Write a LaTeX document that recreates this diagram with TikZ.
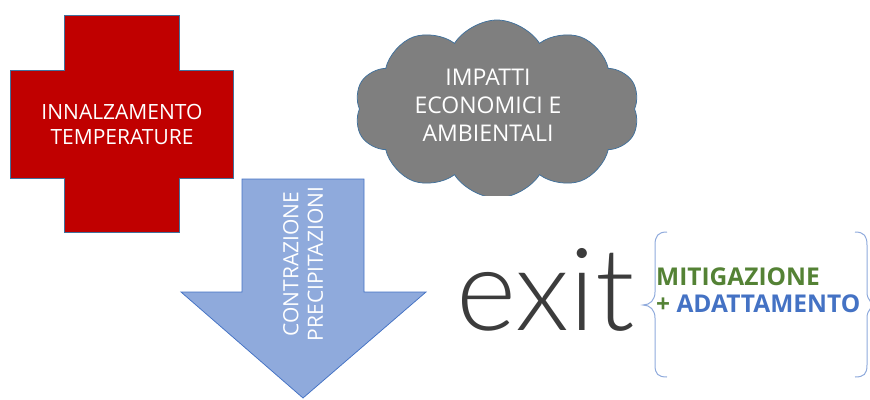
\documentclass[tikz,border=0pt]{standalone}
\usepackage{fontspec}
\setmainfont{Open Sans}
\newfontfamily\exitfont{Lato Light}
\usetikzlibrary{shapes.symbols}
\definecolor{rosso}{HTML}{C00000}
\definecolor{bordo}{HTML}{41719C}
\definecolor{azzurro}{HTML}{8FAADC}
\definecolor{bluscuro}{HTML}{4472C4}
\definecolor{grigio}{HTML}{7F7F7F}
\definecolor{verde}{HTML}{548235}
\definecolor{antracite}{HTML}{3C3C3C}
\tikzset{
  etichetta/.style = {align=center, inner sep=0pt, text=white,
    font=\fontsize{21}{25}\selectfont},% testo bianco nelle forme
  forma/.style = {draw=bordo, line width=0.75pt},% bordo sottile
  nuvola/.style = {forma, cloud, cloud puffs=10, cloud puff arc=115,
    fill=grigio, inner sep=0pt, minimum width=285pt, minimum height=178pt},
  graffa/.style = {draw=azzurro, line width=1pt},% parentesi graffe
  misura/.style = {anchor=base west, inner sep=0pt,
    font=\bfseries\fontsize{24.5}{28}\selectfont}
}
\begin{document}
\begin{tikzpicture}[x=1pt,y=-1pt]
  \useasboundingbox (0,0) rectangle (870,399);
  % croce rossa
  \draw[forma, fill=rosso] (64,15) -- (179,15) -- (179,70) -- (233,70)
    -- (233,178) -- (179,178) -- (179,232) -- (64,232) -- (64,178)
    -- (10,178) -- (10,70) -- (64,70) -- cycle;
  \node[etichetta] (innalzamento) at (122,124) {INNALZAMENTO\\TEMPERATURE};
  % nuvola grigia
  \begin{scope}
    \clip (340,0) rectangle (660,195);
    \node[nuvola] (impatti) at (497,109) {};
  \end{scope}
  \node[etichetta, font=\fontsize{23}{28}\selectfont]
    (impattitesto) at (488,105) {IMPATTI\\ECONOMICI E\\AMBIENTALI};
  % freccia in basso
  \draw[forma, draw=bluscuro, fill=azzurro] (242,179) -- (364,179)
    -- (364,292) -- (426,292) -- (303,398) -- (181,292) -- (242,292) -- cycle;
  \node[etichetta, rotate=90, font=\fontsize{21}{24.5}\selectfont]
    (contrazione) at (303,264) {CONTRAZIONE\\PRECIPITAZIONI};
  % uscita
  \node[anchor=base west, inner sep=0pt, text=antracite,
    font=\exitfont\fontsize{115}{115}\selectfont] (exit) at (456,330) {exit};
  \draw[graffa] (667,232) .. controls (658,232) and (655,236) .. (655,245)
    -- (655,292) .. controls (655,300) and (650,305) .. (643,305)
    .. controls (650,305) and (655,310) .. (655,318) -- (655,365)
    .. controls (655,374) and (658,377) .. (667,377);
  \draw[graffa] (855,232) .. controls (864,232) and (867,236) .. (867,245)
    -- (867,292) .. controls (867,300) and (872,305) .. (879,305)
    .. controls (872,305) and (867,310) .. (867,318) -- (867,365)
    .. controls (867,374) and (864,377) .. (855,377);
  \node[misura, text=verde] (mitigazione) at (656,285) {MITIGAZIONE};
  \node[misura] (adattamento) at (656,312)
    {\textcolor{verde}{+} \textcolor{bluscuro}{ADATTAMENTO}};
\end{tikzpicture}
\end{document}
